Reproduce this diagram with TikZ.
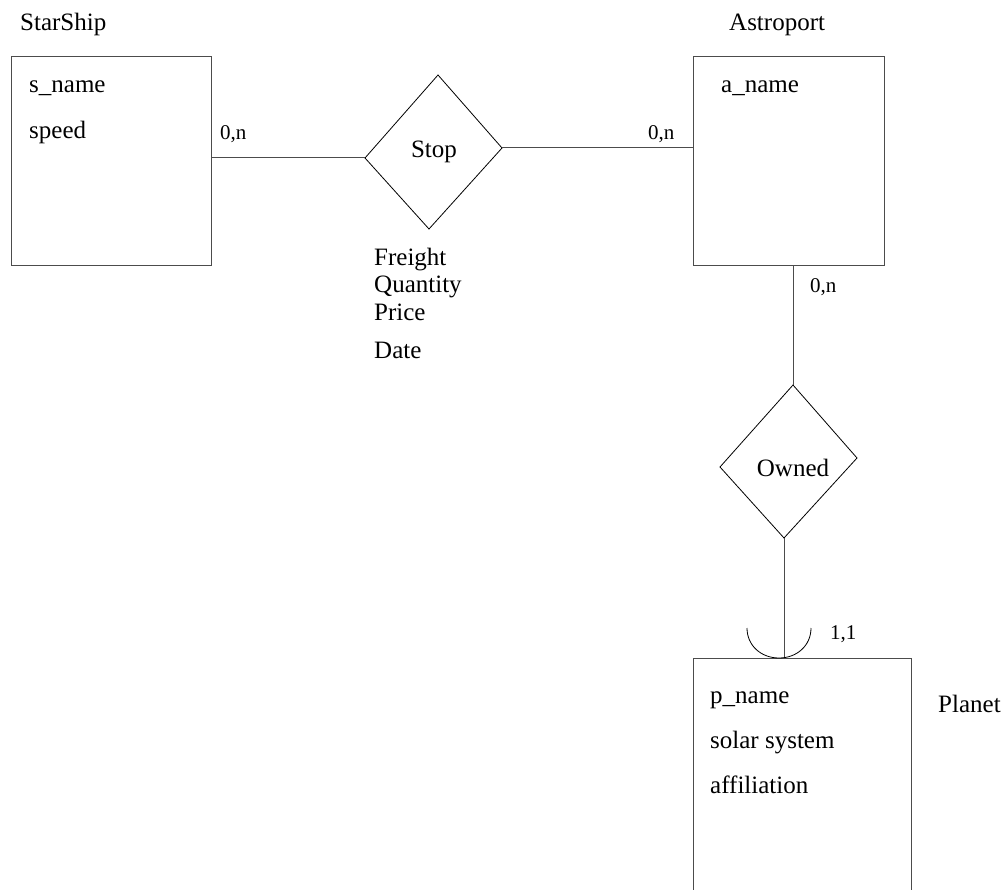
\documentclass[tikz,border=0pt]{standalone}
\usepackage{fontspec}
\setmainfont{Liberation Serif}
\begin{document}
\begin{tikzpicture}[x=1pt,y=-1pt,
  ent/.style={draw=black!70,line width=1pt,inner sep=0pt},
  rel/.style={draw=black,line width=0.8pt},
  lbl/.style={font=\fontsize{25}{30}\selectfont,anchor=base west,inner sep=0pt},
  card/.style={font=\fontsize{21}{25}\selectfont,anchor=base west,inner sep=0pt},
  conn/.style={draw=black!70,line width=1pt}]
\clip (0,0) rectangle (1006,890);
\fill[white] (0,0) rectangle (1006,890);
% entities
\node[ent,minimum width=200pt,minimum height=209pt] (ship) at (111,161.5) {};
\node[ent,minimum width=191pt,minimum height=209pt] (astro) at (788.5,161.5) {};
\node[ent,minimum width=218pt,minimum height=264pt] (planet) at (802,790) {};
% entity names
\node[lbl] (shipname) at (20,31) {StarShip};
\node[lbl] (astroname) at (729,31) {Astroport};
\node[lbl] (planetname) at (938,712) {Planet};
% attributes
\node[lbl] (sname) at (29,93) {s\_name};
\node[lbl] (speed) at (29,139) {speed};
\node[lbl] (aname) at (721,93) {a\_name};
\node[lbl] (pname) at (710,703) {p\_name};
\node[lbl] (solar) at (710,748) {solar system};
\node[lbl] (affil) at (710,793) {affiliation};
% relation attributes
\node[lbl] (freight) at (374,266) {Freight};
\node[lbl] (quantity) at (374,293) {Quantity};
\node[lbl] (price) at (374,320) {Price};
\node[lbl] (date) at (374,358) {Date};
% Stop diamond
\coordinate (stopN) at (438,75);
\coordinate (stopW) at (365,158);
\coordinate (stopS) at (429,229);
\coordinate (stopE) at (502,148);
\draw[rel] (stopN) -- (stopE) -- (stopS) -- (stopW) -- cycle;
\node[font=\fontsize{25}{30}\selectfont,inner sep=0pt] (stop) at (434,152) {Stop};
% Owned diamond
\coordinate (ownN) at (793,385);
\coordinate (ownW) at (720,467);
\coordinate (ownS) at (784,538);
\coordinate (ownE) at (857,458);
\draw[rel] (ownN) -- (ownE) -- (ownS) -- (ownW) -- cycle;
\node[font=\fontsize{25}{30}\selectfont,inner sep=0pt] (owned) at (793,468) {Owned};
% connectors
\draw[conn] (ship.east |- stopW) -- (stopW);
\draw[conn] (stopE) -- (astro.west |- stopE);
\draw[conn] (ownN |- astro.south) -- (ownN);
\draw[conn] (ownS) -- (ownS |- planet.north);
% arc at planet
\coordinate (arcL) at (747,628);
\coordinate (arcB) at (779,658);
\coordinate (arcR) at (811,628);
\draw[rel] (arcL) .. controls (747,645.7) and (761.3,658) .. (arcB)
  .. controls (796.7,658) and (811,645.7) .. (arcR);
% cardinalities
\node[card] (c1) at (220,140) {0,n};
\node[card] (c2) at (648,140) {0,n};
\node[card] (c3) at (810,293) {0,n};
\node[card] (c4) at (830,639) {1,1};
\end{tikzpicture}
\end{document}
